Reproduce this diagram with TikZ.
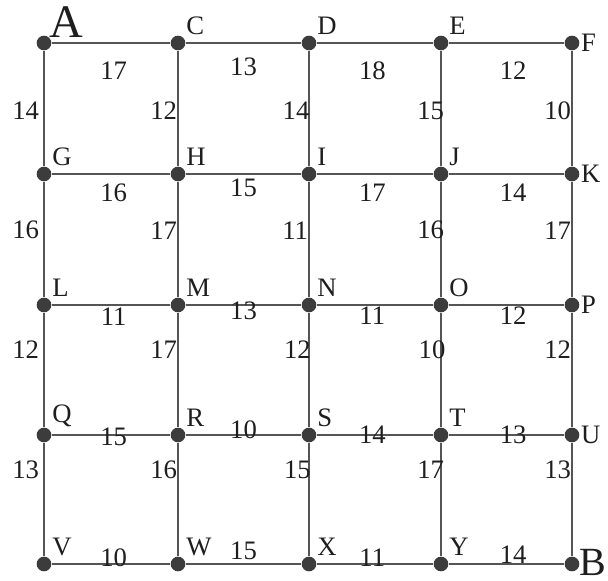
\documentclass[tikz,border=0pt]{standalone}
\usepackage{fontspec}
\setmainfont{Liberation Serif}
\usetikzlibrary{positioning}
\definecolor{inkgray}{RGB}{30, 30, 30}
\definecolor{linegray}{RGB}{85, 85, 85}
\definecolor{dotgray}{RGB}{60, 60, 60}
\tikzset{
  dot/.style={circle, fill=dotgray, inner sep=0pt, minimum size=11pt},
  vname/.style={font=\fontsize{20}{24}\selectfont, text=inkgray, inner sep=0pt},
  bigname/.style={font=\fontsize{35}{40}\selectfont, text=inkgray, inner sep=0pt},
  edge/.style={draw=linegray, line width=1.5pt},
  wt/.style={font=\fontsize{20}{24}\selectfont, text=inkgray, inner sep=0pt},
  vwt/.style={wt, anchor=east}
}

\begin{document}
\begin{tikzpicture}[x=0.75pt, y=-0.75pt, label distance=3pt]
    \useasboundingbox (0,0) rectangle (608,581);
    % grid points
    \node[dot, label={[bigname, label distance=0pt]north east:A}] (A) at (44,43) {};
    \node[dot, label={[vname]north east:C}] (C) at (178,43) {};
    \node[dot, label={[vname]north east:D}] (D) at (309,43) {};
    \node[dot, label={[vname]north east:E}] (E) at (441,43) {};
    \node[dot, label={[vname, label distance=1pt]east:F}] (F) at (572,43) {};
    \node[dot, label={[vname]north east:G}] (G) at (44,174) {};
    \node[dot, label={[vname]north east:H}] (H) at (178,174) {};
    \node[dot, label={[vname]north east:I}] (I) at (309,174) {};
    \node[dot, label={[vname]north east:J}] (J) at (441,174) {};
    \node[dot, label={[vname, label distance=1pt]east:K}] (K) at (572,174) {};
    \node[dot, label={[vname]north east:L}] (L) at (44,305) {};
    \node[dot, label={[vname]north east:M}] (M) at (178,305) {};
    \node[dot, label={[vname]north east:N}] (N) at (309,305) {};
    \node[dot, label={[vname]north east:O}] (O) at (441,305) {};
    \node[dot, label={[vname, label distance=1pt]east:P}] (P) at (572,305) {};
    \node[dot, label={[vname]north east:Q}] (Q) at (44,435) {};
    \node[dot, label={[vname]north east:R}] (R) at (178,435) {};
    \node[dot, label={[vname]north east:S}] (S) at (309,435) {};
    \node[dot, label={[vname]north east:T}] (T) at (441,435) {};
    \node[dot, label={[vname, label distance=1pt]east:U}] (U) at (572,435) {};
    \node[dot, label={[vname]north east:V}] (V) at (44,564) {};
    \node[dot, label={[vname]north east:W}] (W) at (178,564) {};
    \node[dot, label={[vname]north east:X}] (X) at (309,564) {};
    \node[dot, label={[vname]north east:Y}] (Y) at (441,564) {};
    \node[dot, label={[bigname, font=\fontsize{30}{34}\selectfont, label distance=0pt, yshift=1.5pt]east:B}] (B) at (572,564) {};
    % horizontal edges
    \draw[edge] (A) -- node[wt, xshift=2pt, yshift=-21pt] {17} (C)
                (C) -- node[wt, yshift=-18pt] {13} (D)
                (D) -- node[wt, xshift=-2pt, yshift=-21pt] {18} (E)
                (E) -- node[wt, xshift=5pt, yshift=-21pt] {12} (F);
    \draw[edge] (G) -- node[wt, xshift=2pt, yshift=-14pt] {16} (H)
                (H) -- node[wt, yshift=-10pt] {15} (I)
                (I) -- node[wt, xshift=-2pt, yshift=-14pt] {17} (J)
                (J) -- node[wt, xshift=5pt, yshift=-14pt] {14} (K);
    \draw[edge] (L) -- node[wt, xshift=2pt, yshift=-9pt] {11} (M)
                (M) -- node[wt, yshift=-4pt] {13} (N)
                (N) -- node[wt, xshift=-2pt, yshift=-8pt] {11} (O)
                (O) -- node[wt, xshift=5pt, yshift=-8pt] {12} (P);
    \draw[edge] (Q) -- node[wt, xshift=2pt, yshift=-1pt] {15} (R)
                (R) -- node[wt, yshift=4pt] {10} (S)
                (S) -- node[wt, xshift=-2pt, yshift=0pt] {14} (T)
                (T) -- node[wt, xshift=5pt, yshift=0pt] {13} (U);
    \draw[edge] (V) -- node[wt, xshift=2pt, yshift=5pt] {10} (W)
                (W) -- node[wt, yshift=10pt] {15} (X)
                (X) -- node[wt, xshift=-2pt, yshift=5pt] {11} (Y)
                (Y) -- node[wt, xshift=5pt, yshift=7pt] {14} (B);
    % vertical edges
    \draw[edge] (A) -- node[vwt, xshift=-3pt, pos=.517] {14} (G)
                (C) -- node[vwt, pos=.517] {12} (H)
                (D) -- node[vwt, xshift=1pt, pos=.517] {14} (I)
                (E) -- node[vwt, xshift=3pt, pos=.517] {15} (J)
                (F) -- node[vwt, pos=.517] {10} (K);
    \draw[edge] (G) -- node[vwt, xshift=-3pt, pos=.42] {16} (L)
                (H) -- node[vwt, pos=.42] {17} (M)
                (I) -- node[vwt, pos=.42] {11} (N)
                (J) -- node[vwt, xshift=3pt, pos=.42] {16} (O)
                (K) -- node[vwt, pos=.42] {17} (P);
    \draw[edge] (L) -- node[vwt, xshift=-3pt, pos=.32] {12} (Q)
                (M) -- node[vwt, pos=.32] {17} (R)
                (N) -- node[vwt, xshift=2pt, pos=.32] {12} (S)
                (O) -- node[vwt, xshift=4pt, pos=.32] {10} (T)
                (P) -- node[vwt, pos=.32] {12} (U);
    \draw[edge] (Q) -- node[vwt, xshift=-3pt, pos=.24] {13} (V)
                (R) -- node[vwt, pos=.24] {16} (W)
                (S) -- node[vwt, xshift=2pt, pos=.24] {15} (X)
                (T) -- node[vwt, xshift=3pt, pos=.24] {17} (Y)
                (U) -- node[vwt, pos=.24] {13} (B);
\end{tikzpicture}
\end{document}
